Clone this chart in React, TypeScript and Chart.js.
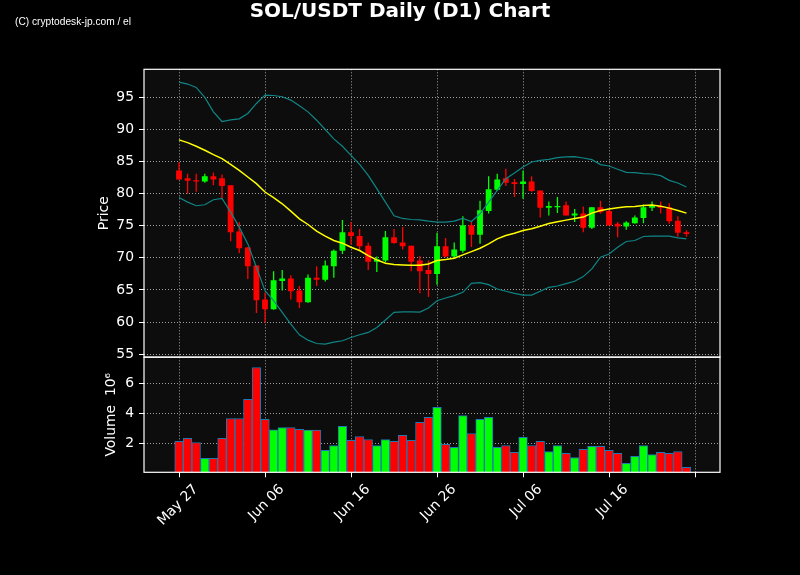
import { useEffect, useRef } from 'react';
import { Chart, registerables } from 'chart.js';

Chart.register(...registerables);

const chartTitle = 'SOL/USDT Daily (D1) Chart';
const watermark = '(C) cryptodesk-jp.com / el';

const tickDays = [0, 10, 20, 30, 40, 50, 60];
const tickLabels = ['May 27', 'Jun 06', 'Jun 16', 'Jun 26', 'Jul 06', 'Jul 16', ''];
const priceTicks = [55, 60, 65, 70, 75, 80, 85, 90, 95];
const volumeTicks = [2, 4, 6];

const opens = [
  83.6, 82.4, 82.1, 81.9, 82.7, 82.4, 81.3, 74.1, 71.6, 68.8,
  63.5, 62.0, 66.4, 66.8, 64.9, 63.1, 66.9, 66.6, 68.7, 71.1,
  74.0, 73.4, 71.9, 69.4, 69.6, 73.2, 72.4, 71.9, 69.6, 68.1,
  67.5, 71.8, 70.2, 71.1, 75.1, 73.6, 77.3, 80.6, 82.4, 81.8,
  81.5, 81.9, 80.5, 77.8, 77.9, 78.2, 76.6, 76.9, 74.7, 77.9,
  77.3, 75.3, 74.9, 75.4, 76.2, 77.8, 78.1, 77.9, 75.8, 74.0,
];
const highs = [
  84.9, 83.1, 83.1, 83.1, 83.3, 83.0, 81.3, 75.6, 71.7, 68.8,
  64.6, 67.9, 68.1, 67.3, 65.6, 67.4, 68.7, 69.6, 71.3, 75.9,
  75.6, 74.5, 72.4, 70.2, 74.2, 74.5, 74.8, 71.9, 70.3, 69.6,
  73.9, 73.1, 72.4, 76.5, 75.6, 78.9, 82.7, 83.1, 83.9, 82.3,
  83.6, 82.7, 80.5, 78.8, 79.5, 78.8, 77.6, 78.0, 77.9, 78.9,
  77.6, 75.6, 75.7, 76.6, 78.3, 78.8, 78.8, 78.5, 76.5, 74.3,
];
const lows = [
  82.2, 80.0, 80.3, 81.7, 81.3, 79.1, 72.6, 70.7, 66.7, 61.4,
  59.9, 61.9, 64.9, 63.5, 62.2, 63.0, 65.6, 66.3, 66.9, 70.6,
  72.1, 71.1, 68.1, 67.8, 69.3, 72.2, 71.3, 67.9, 64.5, 63.9,
  65.8, 70.1, 70.0, 70.8, 71.7, 72.2, 76.9, 80.4, 81.2, 79.5,
  79.2, 80.3, 76.3, 76.6, 77.0, 76.6, 75.6, 74.0, 74.5, 76.9,
  75.05, 73.2, 74.4, 75.3, 75.4, 77.3, 76.9, 75.3, 73.3, 73.3,
];
const closes = [
  82.2, 82.0, 81.9, 82.7, 82.2, 81.2, 74.0, 71.5, 68.7, 63.4,
  62.0, 66.5, 66.8, 64.8, 63.1, 66.9, 66.6, 68.8, 71.1, 74.0,
  73.4, 71.8, 69.4, 69.8, 73.2, 72.3, 71.8, 69.4, 67.9, 67.5,
  71.8, 70.2, 71.3, 75.1, 73.6, 77.4, 80.7, 82.2, 81.7, 81.5,
  81.9, 80.4, 77.8, 78.1, 78.1, 76.6, 76.9, 74.7, 77.9, 77.1,
  75.05, 74.9, 75.5, 76.3, 77.9, 78.2, 77.8, 75.7, 73.9, 73.7,
];
const volumes = [
  2.13, 2.33, 2.06, 1.0, 1.0, 2.33, 3.66, 3.66, 4.93, 7.06,
  3.6, 2.91, 3.06, 3.06, 2.93, 2.88, 2.88, 1.53, 1.86, 3.13,
  2.2, 2.46, 2.26, 1.86, 2.26, 2.13, 2.53, 2.2, 3.4, 3.73,
  4.4, 1.93, 1.73, 3.86, 2.66, 3.6, 3.73, 1.73, 1.86, 1.4,
  2.4, 1.86, 2.13, 1.46, 1.86, 1.33, 1.06, 1.6, 1.8, 1.8,
  1.53, 1.33, 0.66, 1.13, 1.86, 1.26, 1.4, 1.33, 1.46, 0.4,
];
const sma20 = [
  88.38, 87.96, 87.39, 86.77, 86.09, 85.46, 84.58, 83.64, 82.6, 81.56,
  80.26, 79.37, 78.43, 77.29, 76.09, 75.2, 74.16, 73.38, 72.7, 72.29,
  71.66, 71.14, 70.36, 69.68, 69.16, 68.95, 68.9, 68.85, 68.85, 69.06,
  69.58, 69.73, 69.94, 70.46, 70.98, 71.5, 72.18, 72.96, 73.48, 73.85,
  74.27, 74.53, 74.94, 75.36, 75.62, 75.88, 76.14, 76.35, 76.97, 77.39,
  77.6, 77.81, 77.96, 78.0, 78.17, 78.22, 78.06, 77.75, 77.39, 76.97,
];
const bbUpper = [
  97.39, 97.08, 96.56, 95.0, 92.75, 91.25, 91.5, 91.66, 92.5, 94.06,
  95.36, 95.3, 95.1, 94.58, 93.69, 92.75, 91.45, 90.0, 88.54, 87.39,
  85.98, 84.58, 82.86, 80.78, 78.69, 76.56, 76.14, 75.98, 75.93, 75.72,
  75.57, 75.57, 75.72, 76.14, 75.67, 76.87, 78.69, 80.52, 82.34, 83.22,
  84.16, 84.94, 85.2, 85.36, 85.62, 85.72, 85.77, 85.56, 85.3, 84.53,
  84.32, 83.8, 83.33, 83.28, 83.12, 83.07, 82.81, 82.08, 81.66, 81.04,
];
const bbLower = [
  79.42, 78.69, 78.12, 78.28, 79.06, 79.27, 77.13, 74.79, 72.18, 68.54,
  64.89, 63.33, 61.5, 59.68, 58.02, 57.18, 56.66, 56.56, 56.87, 57.08,
  57.6, 58.02, 58.38, 59.16, 60.31, 61.5, 61.6, 61.6, 61.55, 62.18,
  63.33, 63.75, 64.11, 64.63, 66.04, 66.14, 65.83, 65.15, 64.8, 64.47,
  64.2, 64.2, 64.8, 65.41, 65.62, 65.98, 66.35, 67.08, 68.28, 70.1,
  70.6, 71.66, 72.55, 72.7, 73.33, 73.38, 73.38, 73.38, 73.12, 72.96,
];

const UP = '#00ff00';
const DOWN = '#ff0000';
const FONT = "'DejaVu Sans'";
const GRID = 'rgba(210,210,210,0.75)';

export default function App() {
  const ref = useRef<HTMLCanvasElement | null>(null);

  useEffect(() => {
    const canvas = ref.current;
    if (!canvas) return;
    document.body.style.background = '#000';
    const colors = opens.map((o, i) => (closes[i] >= o ? UP : DOWN));
    const pts = (arr: any[]) => arr.map((v, i) => ({ x: i, y: v }));

    const panels = {
      id: 'panels',
      beforeDraw(chart: any) {
        const { ctx, chartArea } = chart;
        ctx.save();
        ctx.fillStyle = '#000';
        ctx.fillRect(0, 0, chart.width, chart.height);
        ctx.fillStyle = '#0d0d0d';
        for (const id of ['y', 'yVol']) {
          const s = chart.scales[id];
          ctx.fillRect(chartArea.left, s.top, chartArea.right - chartArea.left, s.bottom - s.top);
        }
        ctx.restore();
      },
      afterDraw(chart: any) {
        const { ctx, chartArea } = chart;
        ctx.save();
        ctx.strokeStyle = '#ffffff';
        ctx.lineWidth = 1.2;
        for (const id of ['y', 'yVol']) {
          const s = chart.scales[id];
          ctx.strokeRect(chartArea.left, s.top, chartArea.right - chartArea.left, s.bottom - s.top);
        }
        ctx.fillStyle = '#ffffff';
        ctx.textBaseline = 'alphabetic';
        ctx.textAlign = 'center';
        ctx.font = `bold 20px ${FONT}`;
        ctx.fillText(chartTitle, 400, 17.4);
        ctx.textAlign = 'left';
        ctx.font = "10.2px 'Liberation Sans'";
        ctx.fillText(watermark, 15, 25);
        ctx.restore();
      },
    };

    const tickFont = { family: FONT, size: 13.9 };
    const gridOpts: any = {
      color: GRID,
      lineWidth: 1,
      drawTicks: true,
      tickLength: 5,
      tickColor: '#ffffff',
      tickWidth: 1,
      tickBorderDash: [],
      offset: false,
    };

    const chart = new Chart(canvas, {
      type: 'bar',
      data: {
        datasets: [
          {
            type: 'line',
            data: pts(sma20),
            yAxisID: 'y',
            borderColor: '#ffff00',
            borderWidth: 1.5,
            pointRadius: 0,
            tension: 0,
            order: 0,
          } as any,
          {
            type: 'line',
            data: pts(bbUpper),
            yAxisID: 'y',
            borderColor: '#108585',
            borderWidth: 1.2,
            pointRadius: 0,
            tension: 0,
            order: 0,
          },
          {
            type: 'line',
            data: pts(bbLower),
            yAxisID: 'y',
            borderColor: '#108585',
            borderWidth: 1.2,
            pointRadius: 0,
            tension: 0,
            order: 0,
          },
          {
            type: 'bar',
            data: lows.map((l, i) => ({ x: i, y: [l, highs[i]] })),
            yAxisID: 'y',
            backgroundColor: colors,
            barPercentage: 0.15,
            categoryPercentage: 1,
            order: 3,
          },
          {
            type: 'bar',
            data: opens.map((o, i) => ({ x: i, y: [o, closes[i]] })),
            yAxisID: 'y',
            backgroundColor: colors,
            barPercentage: 0.68,
            categoryPercentage: 1,
            order: 2,
          },
          {
            type: 'bar',
            data: pts(volumes),
            yAxisID: 'yVol',
            backgroundColor: colors,
            borderColor: '#1f77b4',
            borderWidth: 1,
            borderSkipped: false,
            barPercentage: 1,
            categoryPercentage: 1,
            order: 2,
          },
        ] as any,
      },
      options: {
        animation: false,
        responsive: false,
        maintainAspectRatio: false,
        events: [],
        layout: { padding: { top: 69.3, right: 80, left: 0, bottom: 0 } },
        datasets: { bar: { grouped: false } } as any,
        plugins: { legend: { display: false }, tooltip: { enabled: false }, title: { display: false } },
        scales: {
          x: {
            type: 'linear',
            position: 'bottom',
            offset: false,
            min: -4.07,
            max: 62.9,
            bounds: 'data',
            afterBuildTicks: (s: any) => {
              s.ticks = tickDays.map((v) => ({ value: v }));
            },
            afterFit: (s: any) => {
              s.height = 102.7;
            },
            grid: gridOpts,
            border: { display: false, dash: [1, 2] },
            ticks: {
              autoSkip: false,
              maxRotation: 45,
              minRotation: 45,
              labelOffset: 17,
              padding: 4,
              color: '#ffffff',
              font: tickFont,
              callback: (v: any) => {
                const k = tickDays.indexOf(Number(v));
                return k >= 0 ? tickLabels[k] : '';
              },
            },
          },
          yVol: {
            type: 'linear',
            position: 'left',
            stack: 'panels',
            stackWeight: 1,
            min: 0.07,
            max: 7.75,
            bounds: 'data',
            afterBuildTicks: (s: any) => {
              s.ticks = volumeTicks.map((v) => ({ value: v }));
            },
            afterFit: (s: any) => {
              s.width = 144;
            },
            grid: gridOpts,
            border: { display: false, dash: [1, 2] },
            ticks: { color: '#ffffff', font: tickFont, padding: 5 },
            title: {
              display: true,
              text: 'Volume  10⁶',
              color: '#ffffff',
              font: tickFont,
              padding: { top: 103.5, bottom: 0 },
            },
          },
          y: {
            type: 'linear',
            position: 'left',
            stack: 'panels',
            stackWeight: 2.5,
            min: 54.53,
            max: 99.38,
            bounds: 'data',
            afterBuildTicks: (s: any) => {
              s.ticks = priceTicks.map((v) => ({ value: v }));
            },
            afterFit: (s: any) => {
              s.width = 144;
            },
            grid: gridOpts,
            border: { display: false, dash: [1, 2] },
            ticks: { color: '#ffffff', font: tickFont, padding: 5 },
            title: {
              display: true,
              text: 'Price',
              color: '#ffffff',
              font: tickFont,
              padding: { top: 95.7, bottom: 0 },
            },
          },
        } as any,
      },
      plugins: [panels],
    });
    return () => chart.destroy();
  }, []);

  return (
    <div style={{ position: 'fixed', left: 0, top: 0, width: 800, height: 575, background: '#000' }}>
      <canvas ref={ref} width={800} height={575} style={{ display: 'block', width: 800, height: 575 }} />
    </div>
  );
}
